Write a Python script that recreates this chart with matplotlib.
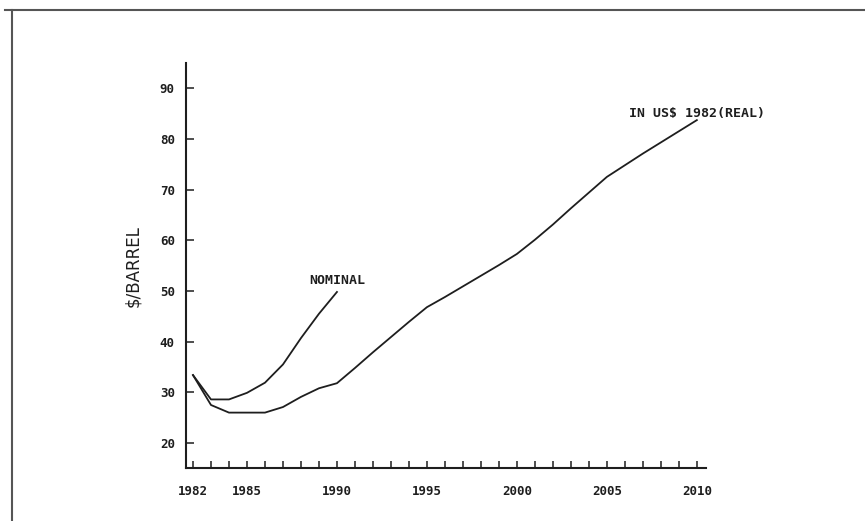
import matplotlib.pyplot as plt
from matplotlib.lines import Line2D

# nominal price, 1982-1990
nominal_years = [1982, 1983, 1984, 1985, 1986, 1987, 1988, 1989, 1990]
nominal_price = [33.4, 28.6, 28.6, 29.9, 31.9, 35.5, 40.7, 45.5, 49.8]

# real price (1982 US$), 1982-2010
real_years = list(range(1982, 2011))
real_price = [33.4, 27.5, 26.0, 26.0, 26.0, 27.1, 29.1, 30.8, 31.8,
              34.8, 37.9, 40.9, 43.9, 46.8, 48.8, 50.9, 53.0, 55.1,
              57.3, 60.1, 63.1, 66.3, 69.4, 72.5, 74.8, 77.1, 79.3,
              81.5, 83.7]

y_ticks = [20, 30, 40, 50, 60, 70, 80, 90]
x_labelled = [1982, 1985, 1990, 1995, 2000, 2005, 2010]

ink = '#1e1e1e'
mono = 'DejaVu Sans Mono'

fig = plt.figure(figsize=(8.65, 5.21), dpi=100)
ax = fig.add_axes([0.215, 0.1017, 0.601, 0.777])

ax.plot(real_years, real_price, color=ink, lw=1.3)
ax.plot(nominal_years, nominal_price, color=ink, lw=1.3)

ax.set_xlim(1981.61, 2010.5)
ax.set_ylim(15.07, 94.93)

for s in ['top', 'right']:
    ax.spines[s].set_visible(False)
for s in ['left', 'bottom']:
    ax.spines[s].set_linewidth(1.5)
    ax.spines[s].set_color(ink)

ax.set_yticks(y_ticks)
ax.set_yticklabels([str(v) for v in y_ticks], fontfamily=mono,
                   fontweight='bold', fontsize=9)
ax.set_xticks(real_years)
ax.set_xticklabels([str(y) if y in x_labelled else '' for y in real_years],
                   fontfamily=mono, fontweight='bold', fontsize=9)
ax.tick_params(axis='y', direction='in', length=6, width=1.1, pad=8, colors=ink)
ax.tick_params(axis='x', direction='in', length=5, width=1.1, pad=12, colors=ink)

ax.set_ylabel('$/BARREL', fontsize=12, color=ink, labelpad=13)

ax.text(1990.0, 52.1, 'NOMINAL', fontfamily=mono, fontweight='bold',
        fontsize=9.5, ha='center', va='center', color=ink)
ax.text(2010.0, 85.1, 'IN US$ 1982(REAL)', fontfamily=mono, fontweight='bold',
        fontsize=9.5, ha='center', va='center', color=ink)

# page frame (left and top edges)
fig.add_artist(Line2D([12 / 865, 12 / 865], [0, 1 - 10 / 521],
                      transform=fig.transFigure, color='#555555', lw=1.5))
fig.add_artist(Line2D([5 / 865, 1], [1 - 10 / 521, 1 - 10 / 521],
                      transform=fig.transFigure, color='#555555', lw=1.5))

fig.savefig('out.png', dpi=100)
